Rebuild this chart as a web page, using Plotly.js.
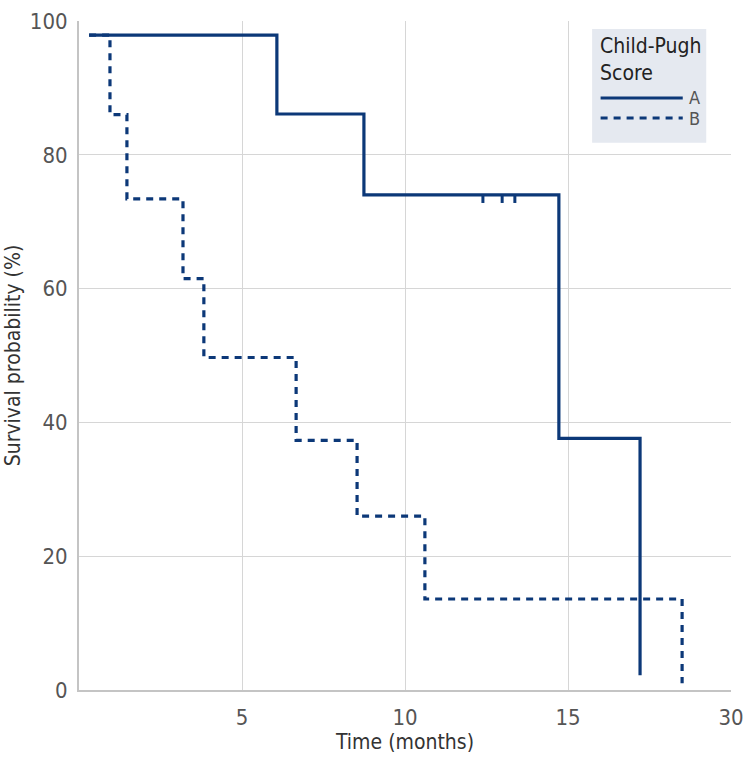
<!DOCTYPE html>
<html>
<head>
<meta charset="utf-8">
<script src="https://cdn.plot.ly/plotly-3.0.1.min.js"></script>
<style>
  html, body { margin: 0; padding: 0; background: #fff; }
  #chart { width: 750px; height: 759px; }
</style>
</head>
<body>
<div id="chart"></div>
<script>
// ---- Data ----
const timesA = [0.31, 6.07, 8.74, 14.72, 17.21];
const survA  = [97.9, 86.1, 74.0, 37.6, 2.2];
const censorA = [12.39, 12.98, 13.37];
const censorLevelA = 74.0;

const timesB = [0.31, 0.95, 1.47, 3.19, 3.83, 6.66, 8.53, 10.61, 18.5];
const survB  = [97.9, 86.0, 73.4, 61.5, 49.7, 37.3, 26.0, 13.6, 1.0];

const xTickVals = [5, 10, 15, 20];
const xTickText = ['5', '10', '15', '30'];
const yTickVals = [0, 20, 40, 60, 80, 100];

const seriesNames = ['A', 'B'];
const legendTitle = 'Child-Pugh<br>Score';

// ---- Styles ----
const navy = '#0c3878';
const FONT = '"DejaVu Sans Condensed", "Liberation Sans Narrow", "Roboto", sans-serif';

// censor tick segments (drawn downward from the curve)
const tickDrop = 1.2;
const cx = [], cy = [];
censorA.forEach(t => { cx.push(t, t, null); cy.push(censorLevelA, censorLevelA - tickDrop, null); });

const traces = [
  { x: timesB, y: survB, mode: 'lines', name: seriesNames[1],
    line: { shape: 'hv', color: navy, width: 3.2, dash: '7px,6px' }, hoverinfo: 'skip' },
  { x: timesA, y: survA, mode: 'lines', name: seriesNames[0],
    line: { shape: 'hv', color: navy, width: 3.2 }, hoverinfo: 'skip' },
  { x: cx, y: cy, mode: 'lines', showlegend: false,
    line: { color: navy, width: 3 }, hoverinfo: 'skip' }
];

// custom legend (paper coordinates)
const L = { x0: 0.787, x1: 0.962, y0: 0.818, y1: 0.988 };
const lineX0 = 0.800, lineX1 = 0.926;
const rowA = 0.885, rowB = 0.855;

const layout = {
  width: 750, height: 759,
  margin: { l: 79, r: 19, t: 21, b: 69 },
  paper_bgcolor: '#ffffff', plot_bgcolor: '#ffffff',
  showlegend: false,
  font: { family: FONT, color: '#555555', size: 22, weight: 300 },
  xaxis: {
    range: [0, 20], tickvals: xTickVals, ticktext: xTickText,
    showgrid: true, gridcolor: '#d6d6d6', gridwidth: 1,
    showline: true, linecolor: '#c4c4c4', linewidth: 2, zeroline: false,
    ticks: '', ticklabelstandoff: 7,
    tickfont: { family: FONT, size: 22, color: '#555555', weight: 300 },
    title: { text: 'Time (months)', font: { family: FONT, size: 21, color: '#333333', weight: 300 }, standoff: 4 }
  },
  yaxis: {
    range: [0, 100], tickvals: yTickVals,
    showgrid: true, gridcolor: '#d6d6d6', gridwidth: 1,
    showline: true, linecolor: '#c4c4c4', linewidth: 2, zeroline: false,
    ticks: '', ticklabelstandoff: 5,
    tickfont: { family: FONT, size: 22, color: '#555555', weight: 300 },
    title: { text: 'Survival probability (%)', font: { family: FONT, size: 21, color: '#333333', weight: 300 }, standoff: 3 }
  },
  shapes: [
    { type: 'rect', xref: 'paper', yref: 'paper', x0: L.x0, x1: L.x1, y0: L.y0, y1: L.y1,
      fillcolor: '#e5e9f0', line: { width: 0 }, layer: 'below' },
    { type: 'line', xref: 'paper', yref: 'paper', x0: lineX0, x1: lineX1, y0: rowA, y1: rowA,
      line: { color: navy, width: 3 } },
    { type: 'line', xref: 'paper', yref: 'paper', x0: lineX0, x1: lineX1, y0: rowB, y1: rowB,
      line: { color: navy, width: 3, dash: '7px,6px' } }
  ],
  annotations: [
    { xref: 'paper', yref: 'paper', x: lineX0 - 0.004, y: 0.983, xanchor: 'left', yanchor: 'top',
      text: legendTitle, showarrow: false, align: 'left',
      font: { family: FONT, size: 21, color: '#222222', weight: 300 } },
    { xref: 'paper', yref: 'paper', x: lineX1 + 0.006, y: rowA, xanchor: 'left', yanchor: 'middle',
      text: seriesNames[0], showarrow: false, font: { family: FONT, size: 18, color: '#555555', weight: 300 } },
    { xref: 'paper', yref: 'paper', x: lineX1 + 0.006, y: rowB, xanchor: 'left', yanchor: 'middle',
      text: seriesNames[1], showarrow: false, font: { family: FONT, size: 18, color: '#555555', weight: 300 } }
  ]
};

Plotly.newPlot('chart', traces, layout, { displayModeBar: false, staticPlot: true });
</script>
</body>
</html>
